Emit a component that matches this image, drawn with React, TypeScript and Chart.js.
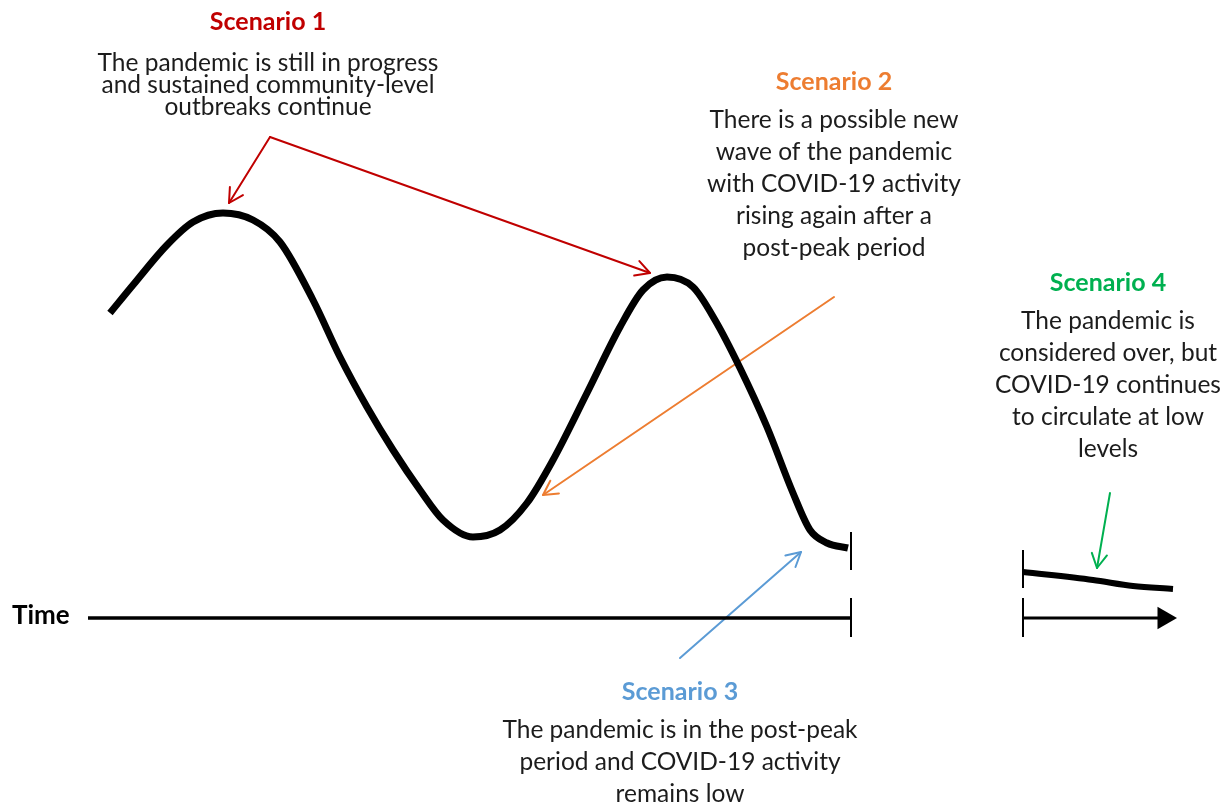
import React, { useEffect, useRef } from "react";
import { Chart, registerables } from "chart.js";

Chart.register(...registerables);

// ---- Data (time units along x, activity level above the time axis along y) ----
const waveTime = [110, 133, 167, 193, 223, 253, 280, 313, 340, 367, 393, 420, 443, 473, 500, 527, 553, 587, 620, 643, 667, 693, 715, 740, 767, 793, 810, 827, 848];
const waveLevel = [305, 333, 373, 396, 405, 398, 376, 318, 261, 211, 168, 128, 98, 81, 88, 115, 158, 225, 291, 328, 341, 331, 298, 250, 191, 125, 88, 75, 70];

const tailTime = [1023, 1093, 1133, 1173];
const tailLevel = [46, 38, 32, 29];

const axisTime = [88, 851];
const axis2Time = [1023, 1164];
const axisLevel = [0, 0];

const breakTime = [851, 1023];
const curveBreakLevel = [[86, 48], [68, 30]];
const axisBreakLevel = [20, -19];

// arrows: [start, tip]
const arrow1aTime = [270, 229];
const arrow1aLevel = [481, 415];
const arrow1bTime = [270, 650];
const arrow1bLevel = [481, 345];
const arrow2Time = [834, 543];
const arrow2Level = [321, 123];
const arrow3Time = [680, 801];
const arrow3Level = [-40, 66];
const arrow4Time = [1110, 1097];
const arrow4Level = [125, 50];

// ---- Text ----
const scenarioTitles = ["Scenario 1", "Scenario 2", "Scenario 3", "Scenario 4"];
const scenarioLines = [
  ["The pandemic is still in progress", "and sustained community-level", "outbreaks continue"],
  ["There is a possible new", "wave of the pandemic", "with COVID-19 activity", "rising again after a", "post-peak period"],
  ["The pandemic is in the post-peak", "period and COVID-19 activity", "remains low"],
  ["The pandemic is", "considered over, but", "COVID-19 continues", "to circulate at low", "levels"],
];
const axisLabel = "Time";

const RED = "#C00000";
const ORANGE = "#ED7D31";
const BLUE = "#5B9BD5";
const GREEN = "#00B050";
const scenarioColors = [RED, ORANGE, BLUE, GREEN];

// annotation anchors (in data units)
const textAnchors = [
  { time: 268, title: 596, first: 555, step: 22 },
  { time: 834, title: 536, first: 498, step: 32 },
  { time: 680, title: -74, first: -112, step: 32 },
  { time: 1108, title: 335, first: 297, step: 32 },
];
const axisLabelAnchor = { time: 12, level: 2 };

const FONT = "Lato, 'Open Sans', sans-serif";

function pts(xs: number[], ys: number[]) {
  return xs.map((x, i) => ({ x, y: ys[i] }));
}

const annotationPlugin = {
  id: "annotations",
  afterDatasetsDraw(chart: any) {
    const ctx = chart.ctx;
    chart.data.datasets.forEach((ds: any, i: number) => {
      if (!ds.arrowHead) return;
      const meta = chart.getDatasetMeta(i);
      const n = meta.data.length;
      const p1 = meta.data[n - 2];
      const p2 = meta.data[n - 1];
      const ang = Math.atan2(p2.y - p1.y, p2.x - p1.x);
      const len = 16;
      const spread = 0.5;
      ctx.save();
      ctx.strokeStyle = ds.borderColor;
      ctx.lineWidth = 2;
      ctx.lineCap = "round";
      ctx.lineJoin = "round";
      ctx.beginPath();
      ctx.moveTo(p2.x - len * Math.cos(ang - spread), p2.y - len * Math.sin(ang - spread));
      ctx.lineTo(p2.x, p2.y);
      ctx.lineTo(p2.x - len * Math.cos(ang + spread), p2.y - len * Math.sin(ang + spread));
      ctx.stroke();
      ctx.restore();
    });
  },
  afterDraw(chart: any) {
    const ctx = chart.ctx;
    const xs = chart.scales.x;
    const ys = chart.scales.y;
    ctx.save();
    ctx.textBaseline = "middle";
    ctx.textAlign = "center";
    scenarioTitles.forEach((t, i) => {
      const a = textAnchors[i];
      const px = xs.getPixelForValue(a.time);
      ctx.fillStyle = scenarioColors[i];
      ctx.font = `bold 25px ${FONT}`;
      ctx.fillText(t, px, ys.getPixelForValue(a.title));
      ctx.fillStyle = "#1c1c1c";
      ctx.font = `24.5px ${FONT}`;
      scenarioLines[i].forEach((line, j) => {
        ctx.fillText(line, px, ys.getPixelForValue(a.first - j * a.step));
      });
    });
    ctx.textAlign = "left";
    ctx.fillStyle = "#000";
    ctx.font = `bold 26px ${FONT}`;
    ctx.fillText(axisLabel, xs.getPixelForValue(axisLabelAnchor.time), ys.getPixelForValue(axisLabelAnchor.level));
    ctx.restore();
  },
};

export default function App() {
  const ref = useRef<HTMLCanvasElement | null>(null);

  useEffect(() => {
    document.body.style.margin = "0";
    document.body.style.background = "#fff";
    if (!ref.current) return;

    const line = (data: any[], extra: any = {}) => ({
      data,
      showLine: true,
      borderColor: "#000",
      backgroundColor: "#000",
      borderWidth: 2,
      pointRadius: 0,
      fill: false,
      ...extra,
    });

    const arrow = (xs: number[], ys: number[], color: string) =>
      line(pts(xs, ys), { borderColor: color, borderWidth: 2, arrowHead: true, borderCapStyle: "round" });

    const chart = new Chart(ref.current, {
      type: "scatter",
      data: {
        datasets: [
          line(pts(waveTime, waveLevel), { borderWidth: 7, cubicInterpolationMode: "monotone" }),
          line(pts(tailTime, tailLevel), { borderWidth: 6, cubicInterpolationMode: "monotone" }),
          line(pts(axisTime, axisLevel), { borderWidth: 3.5 }),
          line(pts(axis2Time, axisLevel), {
            borderWidth: 3,
            pointRadius: [0, 13],
            pointStyle: "triangle",
            pointRotation: 90,
            pointBackgroundColor: "#000",
            pointBorderWidth: 0,
          }),
          line(pts([breakTime[0], breakTime[0]], curveBreakLevel[0]), { borderWidth: 2 }),
          line(pts([breakTime[1], breakTime[1]], curveBreakLevel[1]), { borderWidth: 2 }),
          line(pts([breakTime[0], breakTime[0]], axisBreakLevel), { borderWidth: 2 }),
          line(pts([breakTime[1], breakTime[1]], axisBreakLevel), { borderWidth: 2 }),
          arrow(arrow1aTime, arrow1aLevel, RED),
          arrow(arrow1bTime, arrow1bLevel, RED),
          arrow(arrow2Time, arrow2Level, ORANGE),
          arrow(arrow3Time, arrow3Level, BLUE),
          arrow(arrow4Time, arrow4Level, GREEN),
        ] as any,
      },
      options: {
        animation: false,
        responsive: false,
        maintainAspectRatio: false,
        events: [],
        layout: { padding: 0, autoPadding: false },
        plugins: { legend: { display: false }, tooltip: { enabled: false } },
        scales: {
          x: { type: "linear", min: 0, max: 1229, display: false },
          y: { type: "linear", min: -188, max: 618, display: false },
        },
      } as any,
      plugins: [annotationPlugin],
    });
    return () => chart.destroy();
  }, []);

  return (
    <div style={{ width: 1229, height: 806, background: "#fff" }}>
      <canvas ref={ref} width={1229} height={806} style={{ display: "block" }} />
    </div>
  );
}
